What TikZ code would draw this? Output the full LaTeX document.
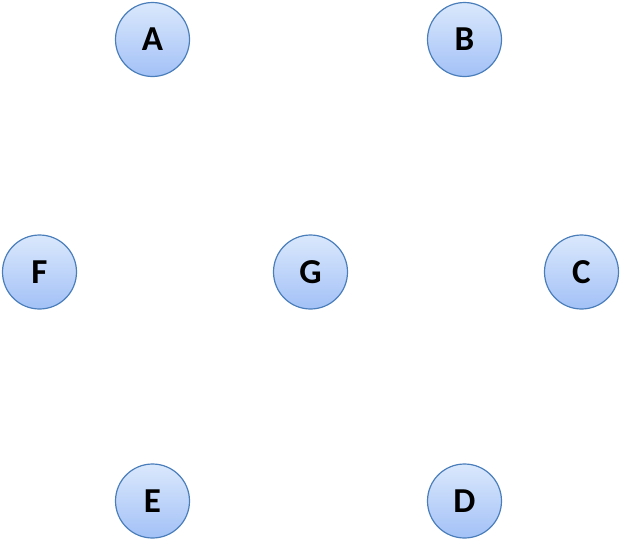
\documentclass[tikz,border=0pt]{standalone}
\usepackage{fontspec}
\setmainfont{Carlito}
\definecolor{topc}{HTML}{DAE8FC}
\definecolor{botc}{HTML}{A3C1F7}
\definecolor{edgec}{HTML}{4A7EBB}
\begin{document}
\begin{tikzpicture}[x=1pt,y=-1pt,
  vtx/.style={circle,minimum size=74pt,inner sep=0pt,draw=edgec,line width=1.2pt,
    top color=topc,bottom color=botc,font=\fontsize{35}{35}\selectfont\bfseries}]
\useasboundingbox (0,0) rectangle (621,541);
\node[vtx] (A) at (152.5,39.5) {A};
\node[vtx] (B) at (464.5,39.5) {B};
\node[vtx] (F) at (39.5,272) {F};
\node[vtx] (G) at (310.5,272) {G};
\node[vtx] (C) at (581.5,272) {C};
\node[vtx] (E) at (152.5,501) {E};
\node[vtx] (D) at (464.5,501) {D};
\end{tikzpicture}
\end{document}
